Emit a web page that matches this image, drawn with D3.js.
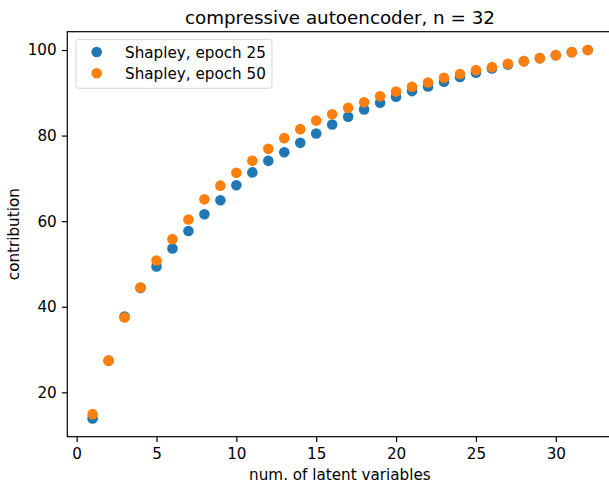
<!DOCTYPE html>
<html>
<head>
<meta charset="utf-8">
<script src="https://cdn.jsdelivr.net/npm/d3@7"></script>
<style>
  body { margin: 0; background: #fff; }
  svg { display: block; font-family: "DejaVu Sans", sans-serif; }
</style>
</head>
<body>
<svg id="chart" width="609" height="487"></svg>
<script>
const latent = d3.range(1, 33);
const epoch25 = [13.9, 27.4, 37.7, 44.4, 49.4, 53.6, 57.7, 61.6, 64.9, 68.4,
                 71.4, 74.1, 76.1, 78.3, 80.5, 82.6, 84.4, 86.1, 87.7, 89.1,
                 90.4, 91.5, 92.6, 93.7, 94.7, 95.7, 96.6, 97.4, 98.1, 98.8,
                 99.5, 100.0];
const epoch50 = [14.9, 27.4, 37.5, 44.5, 50.8, 55.8, 60.4, 65.1, 68.3, 71.3,
                 74.1, 76.9, 79.4, 81.5, 83.5, 85.0, 86.5, 87.8, 89.2, 90.3,
                 91.4, 92.4, 93.5, 94.4, 95.3, 96.0, 96.8, 97.4, 98.1, 98.8,
                 99.5, 100.0];
const seriesNames = ["Shapley, epoch 25", "Shapley, epoch 50"];
const seriesColors = ["#1f77b4", "#ff7f0e"];
const xTicks = [0, 5, 10, 15, 20, 25, 30];
const yTicks = [20, 40, 60, 80, 100];
const title = "compressive autoencoder, n = 32";
const xLabel = "num. of latent variables";
const yLabel = "contribution";

(function () {
const svg = d3.select("#chart");
const mLeft = 67.3, mRight = 612.5, mTop = 31.7, mBottom = 436.7;
const fs = 15.2;
const x = d3.scaleLinear().domain([-0.585, 33.55]).range([mLeft, mRight]);
const y = d3.scaleLinear().domain([9.63, 104.28]).range([mBottom, mTop]);

// points
const series = [epoch25, epoch50];
series.forEach((vals, i) => {
  svg.append("g").selectAll("circle").data(vals).join("circle")
    .attr("cx", (d, j) => x(latent[j]))
    .attr("cy", d => y(d))
    .attr("r", 5.3)
    .attr("fill", seriesColors[i]);
});

// axes
const xAxis = svg.append("g").attr("transform", `translate(0,${mBottom})`)
  .call(d3.axisBottom(x).tickValues(xTicks).tickSize(5.4).tickPadding(6).tickFormat(d3.format("d")));
const yAxis = svg.append("g").attr("transform", `translate(${mLeft},0)`)
  .call(d3.axisLeft(y).tickValues(yTicks).tickSize(5.4).tickPadding(5.2).tickFormat(d3.format("d")));
[xAxis, yAxis].forEach(a => {
  a.select(".domain").remove();
  a.selectAll("line").attr("stroke", "#000").attr("stroke-width", 1.2);
  a.selectAll("text").attr("font-size", fs).attr("fill", "#000")
    .attr("font-family", "DejaVu Sans, sans-serif");
});

// spines
svg.append("rect").attr("x", mLeft).attr("y", mTop)
  .attr("width", mRight - mLeft).attr("height", mBottom - mTop)
  .attr("fill", "none").attr("stroke", "#000").attr("stroke-width", 1.2);

// title & labels
svg.append("text").attr("x", (mLeft + mRight) / 2).attr("y", 23.5)
  .attr("text-anchor", "middle").attr("font-size", 18.3).text(title);
svg.append("text").attr("x", (mLeft + mRight) / 2).attr("y", 480)
  .attr("text-anchor", "middle").attr("font-size", fs).text(xLabel);
svg.append("text").attr("transform", `translate(19,${(mTop + mBottom) / 2}) rotate(-90)`)
  .attr("text-anchor", "middle").attr("font-size", fs).text(yLabel);

// legend
const lg = svg.append("g");
lg.append("rect").attr("x", 76).attr("y", 39.3).attr("width", 196).attr("height", 49)
  .attr("rx", 3).attr("fill", "#fff").attr("fill-opacity", 0.8)
  .attr("stroke", "#d5d5d5").attr("stroke-width", 1);
seriesNames.forEach((name, i) => {
  const cy = 52 + i * 21.3;
  lg.append("circle").attr("cx", 96.7).attr("cy", cy).attr("r", 5.3).attr("fill", seriesColors[i]);
  lg.append("text").attr("x", 125).attr("y", cy + 5.5).attr("font-size", fs).text(name);
});
})();
</script>
</body>
</html>
